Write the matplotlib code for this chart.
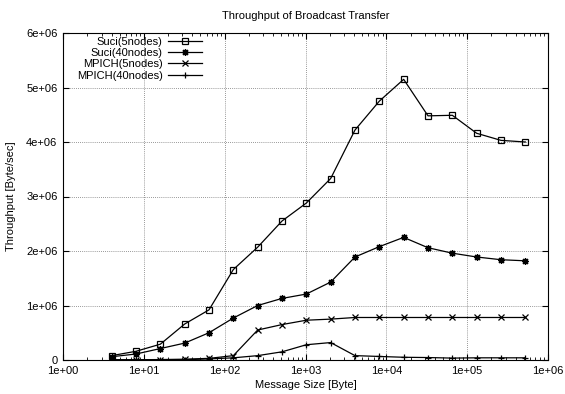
import matplotlib
matplotlib.use('Agg')
import matplotlib.pyplot as plt

plt.rcParams['font.family'] = ['Liberation Sans', 'DejaVu Sans']

# message sizes in bytes (2^2 .. 2^19)
sizes = [4, 8, 16, 32, 64, 128, 256, 512, 1024, 2048, 4096, 8192,
         16384, 32768, 65536, 131072, 262144, 524288]

suci_5 = [0.08e6, 0.16e6, 0.29e6, 0.66e6, 0.92e6, 1.66e6, 2.07e6, 2.55e6, 2.88e6,
          3.33e6, 4.22e6, 4.75e6, 5.15e6, 4.48e6, 4.49e6, 4.16e6, 4.03e6, 4.0e6]
suci_40 = [0.06e6, 0.11e6, 0.21e6, 0.31e6, 0.50e6, 0.77e6, 1.0e6, 1.13e6, 1.21e6,
           1.43e6, 1.89e6, 2.08e6, 2.25e6, 2.06e6, 1.96e6, 1.89e6, 1.84e6, 1.82e6]
mpich_5 = [0.005e6, 0.005e6, 0.008e6, 0.015e6, 0.03e6, 0.08e6, 0.55e6, 0.65e6, 0.73e6,
           0.75e6, 0.78e6, 0.78e6, 0.78e6, 0.78e6, 0.78e6, 0.78e6, 0.78e6, 0.78e6]
mpich_40 = [0.002e6, 0.002e6, 0.003e6, 0.005e6, 0.02e6, 0.04e6, 0.08e6, 0.15e6, 0.28e6,
            0.32e6, 0.08e6, 0.065e6, 0.05e6, 0.045e6, 0.035e6, 0.04e6, 0.04e6, 0.04e6]

labels = ['Suci(5nodes)', 'Suci(40nodes)', 'MPICH(5nodes)', 'MPICH(40nodes)']
yticks = [0, 1e6, 2e6, 3e6, 4e6, 5e6, 6e6]
ytick_labels = ['0', '1e+06', '2e+06', '3e+06', '4e+06', '5e+06', '6e+06']
xticks = [1e0, 1e1, 1e2, 1e3, 1e4, 1e5, 1e6]
xtick_labels = ['1e+00', '1e+01', '1e+02', '1e+03', '1e+04', '1e+05', '1e+06']

fig = plt.figure(figsize=(5.65, 3.94), dpi=100)
ax = fig.add_axes([63 / 565, 34 / 394, 485 / 565, 327 / 394])

lw = 0.9
ax.plot(sizes, suci_5, color='black', lw=lw, marker='s', ms=4.5, mfc='none', mew=0.9, label=labels[0])
ax.plot(sizes, suci_40, color='black', lw=lw, marker=(8, 2, 0), ms=5, mew=0.9, label=labels[1])
ax.plot(sizes, mpich_5, color='black', lw=lw, marker='x', ms=4, mew=0.9, label=labels[2])
ax.plot(sizes, mpich_40, color='black', lw=lw, marker='+', ms=5, mew=0.9, label=labels[3])

ax.set_xscale('log')
ax.set_xlim(1, 1e6)
ax.set_ylim(0, 6e6)
ax.set_xticks(xticks)
ax.set_xticklabels(xtick_labels)
ax.set_yticks(yticks)
ax.set_yticklabels(ytick_labels)
ax.tick_params(which='both', direction='in', top=True, right=True, labelsize=8, pad=4)
ax.tick_params(which='major', length=4)
ax.tick_params(which='minor', length=2)
ax.grid(True, which='major', linestyle=(0, (1, 1.5)), color='#777777', lw=0.6)

ax.set_title('Throughput of Broadcast Transfer', fontsize=8, pad=10)
ax.set_xlabel('Message Size [Byte]', fontsize=8, labelpad=3)
ax.set_ylabel('Throughput [Byte/sec]', fontsize=8, labelpad=7)

leg = ax.legend(loc='upper right', bbox_to_anchor=((202 - 63) / 485, 0.989), frameon=False,
                markerfirst=False, fontsize=8, handlelength=3.1, labelspacing=0.12,
                borderaxespad=0, borderpad=0, handletextpad=0.45)
for t in leg.get_texts():
    t.set_ha('right')
leg._legend_box.align = 'right'

fig.savefig('out.png', dpi=100)
